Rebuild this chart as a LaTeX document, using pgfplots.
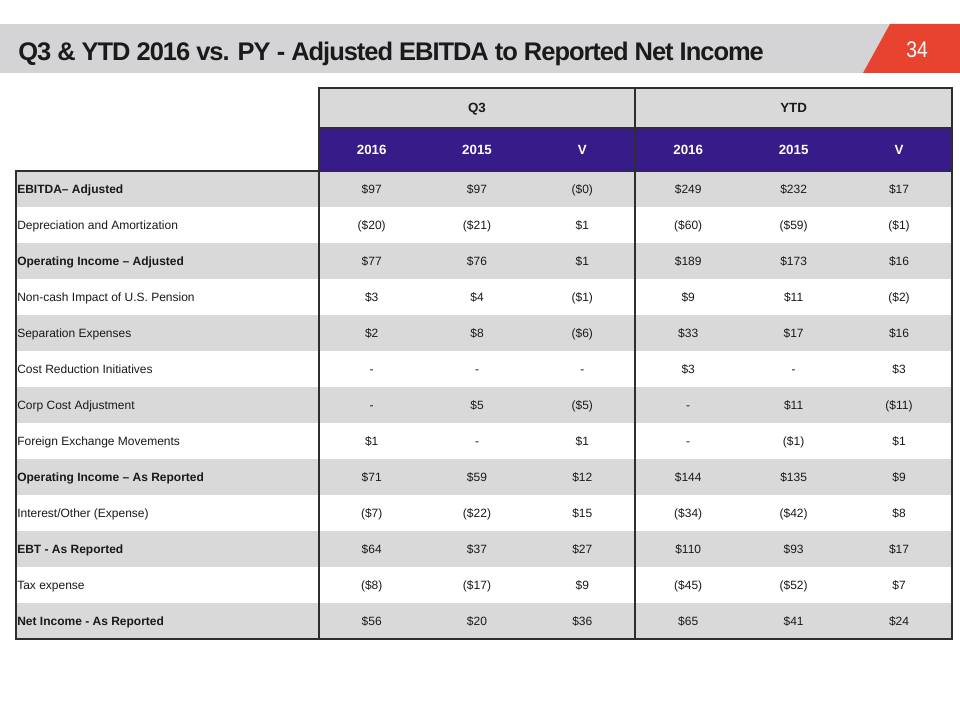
\documentclass[border=0pt]{standalone}
\usepackage{pgfplots}
\pgfplotsset{compat=1.18}
\usepackage{pgfplotstable}
\usepackage{fontspec}
\setmainfont{Liberation Sans}
\newfontfamily\titlefont{Liberation Sans}[LetterSpace=-4]
\newfontfamily\numfont{Liberation Sans}[FakeStretch=0.85]

\definecolor{band}{HTML}{D4D4D6}
\definecolor{redtab}{HTML}{E8432F}
\definecolor{rowgray}{HTML}{D9D9D9}
\definecolor{purp}{HTML}{371B89}
\definecolor{txt}{HTML}{1A1A1A}
\definecolor{rulec}{HTML}{2E2E2E}

\newcommand\datafont{\fontsize{9}{11}\selectfont}
\newcommand\hdrfont{\fontsize{10}{12}\selectfont\bfseries}

% value formatter: 97 -> $97, -20 -> ($20), - -> -
\def\fmtval#1{\fmtA#1\relax}
\def\fmtA#1#2\relax{\ifx-#1\if\relax\detokenize{#2}\relax-\else(\$#2)\fi\else\$#1#2\fi}
% label formatter: leading * means bold
\def\lbl#1{\lblA#1\relax}
\def\lblA#1#2\relax{\ifx*#1\textbf{#2}\else#1#2\fi}

\pgfplotstableread[col sep=semicolon]{
row;label;qa;qb;qv;ya;yb;yv
1;*EBITDA– Adjusted;97;97;-0;249;232;17
2;Depreciation and Amortization;-20;-21;1;-60;-59;-1
3;*Operating Income – Adjusted;77;76;1;189;173;16
4;Non-cash Impact of U.S. Pension;3;4;-1;9;11;-2
5;Separation Expenses;2;8;-6;33;17;16
6;Cost Reduction Initiatives;-;-;-;3;-;3
7;Corp Cost Adjustment;-;5;-5;-;11;-11
8;Foreign Exchange Movements;1;-;1;-;-1;1
9;*Operating Income – As Reported;71;59;12;144;135;9
10;Interest/Other (Expense);-7;-22;15;-34;-42;8
11;*EBT - As Reported;64;37;27;110;93;17
12;Tax expense;-8;-17;9;-45;-52;7
13;*Net Income - As Reported;56;20;36;65;41;24
}\tbl

\pgfplotsset{
  valcol/.style={draw=none, point meta=explicit symbolic,
    nodes near coords={\expandafter\fmtval\expandafter{\pgfplotspointmeta}},
    every node near coord/.append style={anchor=base, inner sep=0pt, font=\datafont, text=txt}},
  lblcol/.style={draw=none, point meta=explicit symbolic,
    nodes near coords={\expandafter\lbl\expandafter{\pgfplotspointmeta}},
    every node near coord/.append style={anchor=base west, inner sep=0pt, font=\datafont, text=txt}},
}

\begin{document}
\begin{tikzpicture}
\begin{axis}[
  width=720pt, height=540pt, scale only axis,
  xmin=0, xmax=960, ymin=0, ymax=720, y dir=reverse,
  hide axis, clip=false,
]
\fill[white] (axis cs:0,0) rectangle (axis cs:960,720);
% title band
\fill[band] (axis cs:0,24) rectangle (axis cs:960,73);
\fill[redtab] (axis cs:863,73) -- (axis cs:890,24) -- (axis cs:960,24) -- (axis cs:960,73) -- cycle;
\node[anchor=base west, inner sep=0pt, text=txt, font=\titlefont\fontsize{19.1}{22}\selectfont\bfseries] at (axis cs:18,61) {Q3 \& YTD 2016 vs. PY - Adjusted EBITDA to Reported Net Income};
\node[anchor=base, inner sep=0pt, text=white, font=\numfont\fontsize{17}{18}\selectfont] at (axis cs:917,58) {34};
% header fills
\fill[rowgray] (axis cs:319,88) rectangle (axis cs:952,128);
\fill[purp] (axis cs:319,128) rectangle (axis cs:952,171);
\pgfplotsinvokeforeach{1,3,5,7,9,11,13}{
  \fill[rowgray] (axis cs:16,{171+36*(#1-1)}) rectangle (axis cs:952,{171+36*#1});
}
% header texts
\node[anchor=base, inner sep=0pt, font=\hdrfont, text=txt] at (axis cs:477,112.8) {Q3};
\node[anchor=base, inner sep=0pt, font=\hdrfont, text=txt] at (axis cs:793.6,112.8) {YTD};
\node[anchor=base, inner sep=0pt, font=\hdrfont, text=white] at (axis cs:371.7,154.3) {2016};
\node[anchor=base, inner sep=0pt, font=\hdrfont, text=white] at (axis cs:477,154.3) {2015};
\node[anchor=base, inner sep=0pt, font=\hdrfont, text=white] at (axis cs:582.3,154.3) {V};
\node[anchor=base, inner sep=0pt, font=\hdrfont, text=white] at (axis cs:688.2,154.3) {2016};
\node[anchor=base, inner sep=0pt, font=\hdrfont, text=white] at (axis cs:793.6,154.3) {2015};
\node[anchor=base, inner sep=0pt, font=\hdrfont, text=white] at (axis cs:899,154.3) {V};
% rules
\draw[rulec, line width=1.1pt] (axis cs:319,88) rectangle (axis cs:952,639);
\draw[rulec, line width=1.1pt] (axis cs:16,171) rectangle (axis cs:319,639);
\draw[rulec, line width=1.1pt] (axis cs:635,88) -- (axis cs:635,639);
\draw[rulec, line width=1.1pt] (axis cs:319,128) -- (axis cs:952,128);
\draw[rulec, line width=0.6pt] (axis cs:319,171) -- (axis cs:952,171);
% data
\addplot[lblcol] table[x expr=17, y expr=\thisrow{row}*36+157.3, meta=label] {\tbl};
\addplot[valcol] table[x expr=371.7, y expr=\thisrow{row}*36+157.3, meta=qa] {\tbl};
\addplot[valcol] table[x expr=477, y expr=\thisrow{row}*36+157.3, meta=qb] {\tbl};
\addplot[valcol] table[x expr=582.3, y expr=\thisrow{row}*36+157.3, meta=qv] {\tbl};
\addplot[valcol] table[x expr=688.2, y expr=\thisrow{row}*36+157.3, meta=ya] {\tbl};
\addplot[valcol] table[x expr=793.6, y expr=\thisrow{row}*36+157.3, meta=yb] {\tbl};
\addplot[valcol] table[x expr=899, y expr=\thisrow{row}*36+157.3, meta=yv] {\tbl};
\end{axis}
\end{tikzpicture}
\end{document}
